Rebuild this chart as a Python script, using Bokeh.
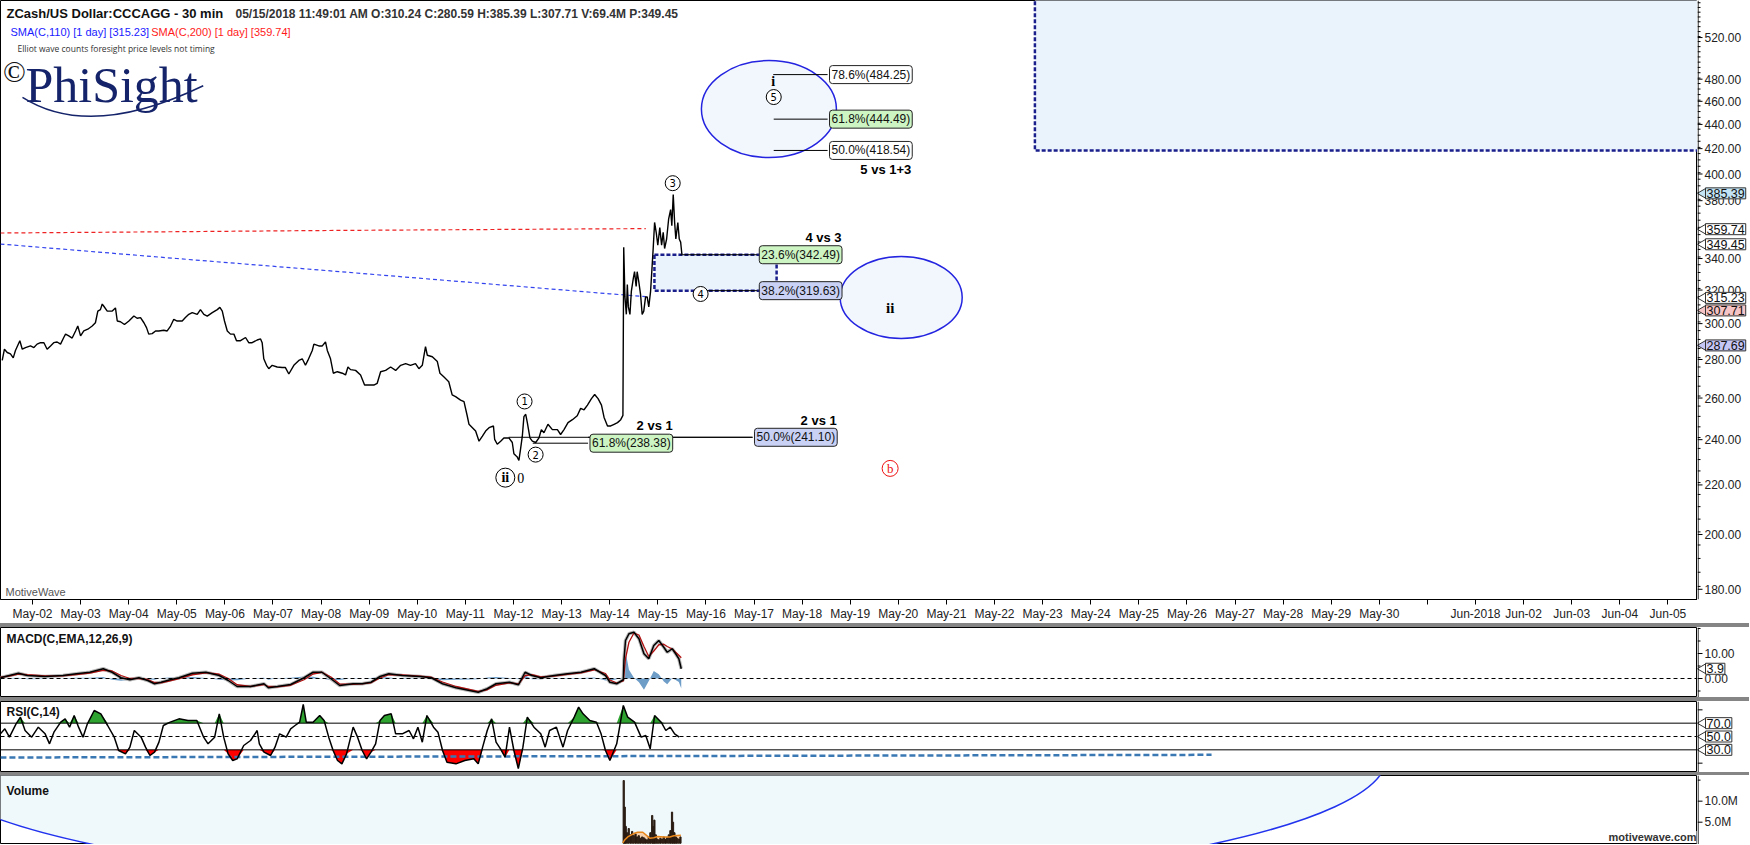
import numpy as np
from bokeh.plotting import figure
from bokeh.models import Range1d, FixedTicker, Label, Span, Div
from bokeh.layouts import column, row
from bokeh.embed import file_html
from bokeh.resources import INLINE
from bokeh.core.properties import value

# ---------------- data (hours after May-02 00:00) ----------------
price_h = [-15.1, -14.0, -12.6, -11.0, -9.6, -8.5, -6.3, -5.1, -3.5, -1.0,
           0.7, 2.3, 4.0, 5.7, 7.3, 9.0, 10.6, 12.3, 14.0, 15.6,
           16.5, 18.1, 19.8, 21.5, 22.6, 24.0, 25.6, 27.6, 29.8, 31.4,
           32.6, 33.9, 34.8, 35.6, 37.3, 39.8, 41.4, 42.3, 43.9, 45.9,
           48.1, 50.6, 52.2, 53.9, 55.6, 56.9, 58.0, 59.7, 61.4, 63.0,
           65.5, 67.2, 68.9, 70.5, 72.2, 74.7, 76.3, 78.0, 79.7, 82.2,
           83.8, 85.5, 87.2, 89.7, 92.2, 93.5, 94.7, 95.8, 97.2, 98.8,
           100.5, 101.8, 103.8, 106.3, 107.9, 109.6, 112.1, 113.8, 114.6, 115.4,
           116.8, 117.9, 119.6, 122.1, 124.6, 126.2, 127.9, 130.4, 132.9, 134.6,
           136.2, 137.4, 139.6, 140.4, 142.9, 144.6, 146.2, 147.1, 148.7, 150.1,
           152.1, 154.6, 156.2, 157.4, 158.7, 161.2, 163.7, 165.7, 167.8, 170.3,
           172.0, 173.7, 176.2, 178.7, 181.2, 183.7, 186.2, 188.6, 191.1, 192.8,
           194.5, 196.1, 197.0, 199.5, 202.0, 203.3, 205.2, 207.7, 209.4, 211.1,
           213.6, 215.3, 216.9, 217.8, 219.5, 221.1, 222.8, 224.5, 226.1, 227.8,
           230.0, 230.6, 231.9, 233.6, 235.2, 237.7, 239.4, 240.2, 241.1, 241.9,
           242.7, 243.5, 244.4, 245.2, 246.1, 246.9, 248.2, 249.4, 251.1, 252.7,
           253.9, 255.2, 257.2, 259.4, 261.9, 263.5, 265.2, 267.2, 269.4, 271.8,
           273.5, 275.2, 276.9, 278.9, 280.5, 282.2, 283.9, 285.2, 286.9, 288.5,
           290.2, 291.9, 293.5, 294.6, 295.0, 295.6, 296.3, 296.8, 297.3, 298.1,
           298.8, 299.8, 300.4, 301.2, 301.7, 302.5, 303.4, 304.2, 305.0, 305.9,
           306.7, 307.5, 308.4, 309.2, 309.7, 310.4, 311.2, 312.0, 313.0, 313.9,
           314.7, 315.4, 316.4, 317.4, 318.4, 319.0, 319.7, 320.4, 321.0, 322.0,
           322.7, 323.4, 324.0]
price = [279.5, 285.6, 283.8, 283.1, 280.9, 284.9, 290.3, 285.6, 286.5, 287.4,
         286.5, 288.4, 289.2, 289.2, 285.6, 287.4, 289.2, 289.6, 288.4, 292.1,
         294.0, 293.0, 291.8, 295.8, 298.6, 293.0, 295.8, 296.8, 298.6, 300.5,
         307.3, 308.2, 311.5, 310.2, 307.3, 307.3, 309.2, 301.5, 301.1, 299.5,
         301.5, 304.4, 303.1, 303.5, 300.5, 297.7, 294.0, 294.3, 295.8, 295.8,
         296.2, 295.8, 298.6, 302.5, 301.5, 301.5, 303.5, 305.4, 306.4, 305.4,
         308.2, 305.4, 304.4, 306.4, 308.2, 309.5, 307.3, 301.5, 295.8, 294.0,
         294.0, 290.3, 290.3, 292.1, 289.2, 289.2, 290.7, 291.3, 289.2, 280.4,
         276.9, 275.1, 276.9, 276.0, 275.7, 275.7, 272.3, 276.9, 279.5, 280.4,
         276.9, 279.5, 284.9, 288.4, 287.4, 287.4, 289.6, 284.9, 280.4, 272.7,
         273.5, 272.7, 271.8, 276.0, 274.6, 274.2, 271.8, 266.6, 266.6, 266.6,
         267.5, 273.5, 274.2, 276.0, 274.2, 276.9, 277.8, 276.9, 277.8, 275.1,
         276.9, 287.0, 282.3, 281.5, 278.9, 272.7, 270.9, 268.3, 261.6, 260.7,
         259.0, 258.2, 251.3, 247.2, 245.6, 244.0, 239.3, 241.6, 244.0, 245.6,
         246.4, 240.1, 237.9, 239.3, 240.8, 240.8, 238.7, 233.6, 232.8, 232.1,
         230.6, 235.6, 241.6, 250.9, 252.0, 248.0, 240.8, 239.3, 238.7, 240.8,
         244.7, 243.2, 247.2, 244.7, 244.7, 242.4, 244.7, 248.0, 249.4, 251.3,
         254.9, 254.2, 256.5, 259.7, 261.8, 259.7, 256.5, 250.5, 246.4, 246.4,
         247.2, 248.0, 249.4, 251.5, 347.5, 315.8, 305.4, 323.4, 309.8, 305.4,
         319.2, 327.4, 331.5, 322.2, 331.5, 325.3, 317.3, 305.4, 307.3, 315.8,
         315.8, 309.8, 319.2, 335.8, 346.6, 364.4, 357.6, 348.8, 360.8, 348.8,
         357.6, 346.6, 353.0, 366.7, 373.5, 362.1, 384.6, 364.4, 353.0, 364.4,
         353.0, 350.9, 343.0]

sma110_h = [-16, 72, 144, 216, 288, 306]
sma110 = [349.6, 340.0, 332.5, 325.0, 317.7, 316.0]
sma200_h = [-16, 72, 144, 216, 288, 306]
sma200 = [357.1, 358.0, 358.8, 359.4, 360.0, 360.1]

macd_h = [-16, -11.5, -7, -2.6, 6.3, 15.2, 21.9, 28.6, 35.3, 39.7,
          44.2, 48.6, 53.1, 57.5, 60.9, 64.2, 68.7, 73.1, 79.8, 86.5,
          93.2, 97.7, 102.1, 108.8, 115.5, 117.7, 122.2, 128.8, 135.5, 140,
          144.4, 148.9, 153.3, 160, 164.5, 168.9, 173.4, 177.8, 184.5, 193.4,
          199, 204.6, 211.3, 218, 222.4, 226.9, 231.3, 238, 242.5, 245.8,
          249.2, 253.6, 260.3, 267, 273.7, 280.3, 285.9, 288.1, 291.5, 294.8,
          295.1, 295.9, 297.6, 300.1, 302.6, 305.1, 307.5, 310, 312.5, 315,
          316.7, 319.2, 320.9, 322.5, 323.7]
macd_line = [0.3, 1.2, 2.1, 1.2, 0.8, 1.2, 1.9, 2.5, 3.9, 2.5,
             0.3, -0.5, 0.3, -0.8, -2.1, -1.5, -0.5, 0.3, 2.1, 2.5,
             1.2, -0.8, -3.2, -3.2, -2.1, -3.7, -3.2, -2.4, 0.3, 2.5,
             2.5, -0.1, -2.8, -2.1, -2.1, -1.5, 0.8, 1.9, 1.2, 0.8,
             0.3, -2.1, -3.7, -4.8, -5.5, -4.1, -2.1, -1.5, -2.5, 2.5,
             1.2, 0.3, 1.2, 1.9, 2.5, 3.9, 1.2, -1.5, -2.1, -0.5,
             7.2, 15.2, 17.9, 18.5, 15.9, 9.9, 7.9, 13.2, 15.2, 12.5,
             10.5, 11.9, 9.9, 7.9, 3.9]
macd_signal = [0.5, 1.0, 1.8, 1.5, 1.0, 1.1, 1.6, 2.2, 3.3, 3.0,
               1.2, 0.0, 0.0, -0.4, -1.6, -1.7, -0.9, 0.0, 1.5, 2.3,
               1.7, 0.0, -2.5, -3.2, -2.4, -3.2, -3.3, -2.7, -0.5, 1.8,
               2.5, 0.6, -2.2, -2.3, -2.1, -1.7, 0.2, 1.5, 1.4, 0.9,
               0.5, -1.4, -3.2, -4.4, -5.2, -4.5, -2.7, -1.7, -2.2, 1.2,
               1.5, 0.6, 1.0, 1.7, 2.3, 3.5, 2.0, -0.6, -1.8, -1.0,
               1.5, 8.0, 14.5, 18.2, 17.4, 12.8, 8.8, 11.0, 13.5, 13.7,
               12.8, 11.8, 10.5, 9.3, 8.3]
macd_hist = [-0.2, 0.2, 0.3, -0.3, -0.2, 0.1, 0.3, 0.3, 0.6, -0.5,
             -0.9, -0.5, 0.3, -0.4, -0.5, 0.2, 0.4, 0.3, 0.6, 0.2,
             -0.5, -0.8, -0.7, 0.0, 0.3, -0.5, 0.1, 0.3, 0.8, 0.7,
             0.0, -0.7, -0.6, 0.2, 0.0, 0.2, 0.6, 0.4, -0.2, -0.1,
             -0.2, -0.7, -0.5, -0.4, -0.3, 0.4, 0.6, 0.2, -0.3, 1.3,
             -0.3, -0.3, 0.2, 0.2, 0.2, 0.4, -0.8, -0.9, -0.3, 0.5,
             6.0, 11.0, 3.5, 0.3, -1.5, -4.5, -1.0, 3.0, 1.7, -1.2,
             -2.3, 0.1, -0.6, -1.4, -4.0]

rsi_h = [-16.0, -13.8, -11.5, -8.2, -6.0, -3.7, -0.4, 2.9, 6.3, 8.5,
         10.7, 14.1, 16.3, 18.5, 20.8, 23.0, 25.2, 27.4, 30.8, 34.1,
         37.5, 40.8, 43.0, 46.4, 48.6, 50.8, 54.2, 56.4, 58.6, 60.9,
         63.1, 65.3, 68.7, 73.1, 77.6, 82.0, 85.4, 87.6, 90.9, 93.2,
         95.4, 97.6, 99.9, 102.1, 105.4, 108.8, 112.1, 113.2, 115.5, 118.8,
         121.0, 123.3, 126.6, 128.8, 131.0, 133.3, 135.1, 136.6, 140.0, 143.3,
         145.5, 147.8, 150.0, 152.2, 154.4, 156.7, 160.0, 162.2, 164.5, 166.7,
         168.9, 171.2, 173.4, 175.6, 179.0, 181.2, 184.5, 187.9, 190.1, 192.3,
         194.5, 196.8, 200.1, 202.3, 204.6, 206.8, 211.3, 215.7, 220.2, 222.4,
         224.6, 226.9, 229.1, 231.3, 233.5, 235.8, 238.0, 240.2, 242.4, 244.7,
         246.9, 250.2, 253.6, 255.8, 258.0, 261.4, 264.7, 267.0, 270.3, 272.5,
         274.7, 278.1, 281.4, 283.7, 285.9, 288.1, 291.5, 294.8, 297.0, 300.4,
         303.7, 306.0, 308.2, 310.4, 313.7, 316.0, 318.2, 320.4, 322.7]
rsi = [54, 61.5, 49, 69, 79, 59, 49, 64, 54, 39,
       56.5, 71.5, 76.5, 64, 81.5, 64, 49, 69, 89, 84,
       66.5, 49, 29, 24, 34, 59, 49, 34, 21.5, 26.5,
       41.5, 66.5, 71.5, 76.5, 74, 74, 49, 39, 49, 84,
       49, 24, 14, 16.5, 36.5, 44, 59, 39, 26.5, 21.5,
       34, 54, 49, 61.5, 66.5, 71.5, 98, 71.5, 71.5, 81.5,
       74, 49, 29, 14, 9, 24, 64, 49, 29, 16.5,
       26.5, 39, 74, 81.5, 84, 54, 54, 59, 46.5, 64,
       41.5, 81.5, 64, 56.5, 29, 11.5, 9, 14, 16.5, 9,
       34, 59, 76.5, 41.5, 31.5, 19, 64, 29, 2, 34,
       79, 64, 54, 34, 59, 64, 34, 59, 79, 94,
       84, 74, 71.5, 54, 29, 14, 39, 96.5, 79, 71.5,
       49, 51.5, 31.5, 81.5, 71.5, 59, 64, 54, 49]
rsi_trend_h = [-16, 588.3]
rsi_trend = [18.5, 22.5]

vol_h = [295.0, 295.5, 296.0, 296.7, 297.5, 298.4, 299.2, 300.0, 300.9, 301.7,
         302.5, 303.3, 304.2, 305.0, 305.8, 306.7, 307.5, 308.3, 309.2, 309.7,
         310.3, 311.0, 311.7, 312.5, 313.3, 314.2, 315.0, 315.8, 316.6, 317.5,
         318.3, 319.1, 319.6, 320.3, 321.0, 321.6, 322.5, 323.3]
vol_m = [14.9, 8.6, 4.0, 2.5, 3.5, 2.0, 2.8, 1.8, 2.2, 1.5,
         1.8, 1.2, 1.5, 1.3, 1.0, 0.8, 1.5, 2.5, 6.6, 4.0,
         5.5, 2.0, 1.0, 0.8, 1.2, 1.0, 1.5, 0.9, 1.3, 2.0,
         3.0, 7.4, 5.0, 2.5, 1.5, 1.2, 1.0, 1.5]
volma_h = [294.5, 295.5, 297, 300, 302, 304.5, 306.5, 308, 310, 312, 315, 318, 320, 323.5]
volma_m = [0.1, 0.8, 1.5, 2.3, 2.6, 2.6, 1.8, 1.2, 1.3, 1.6, 1.5, 1.5, 1.8, 1.9]

day_ticks = list(range(35))
day_labels = ["May-%02d" % d for d in range(2, 31)] + ["", "Jun-2018", "Jun-02", "Jun-03", "Jun-04", "Jun-05"]
price_ticks = [180, 200, 220, 240, 260, 280, 300, 320, 340, 360, 380, 400, 420, 440, 460, 480, 520]
price_badges = [385.39, 359.74, 349.45, 315.23, 307.71, 287.69]
badge_fills = ["#c2e4f4", "#ffffff", "#ffffff", "#ffffff", "#f6c4c4", "#c6c6f6"]
macd_ticks = [0, 10]
rsi_ticks = [10, 30, 50, 70, 90]
rsi_levels = [70, 50, 30]
vol_ticks = [5, 10]
vol_tick_labels = ["5.0M", "10.0M"]

fib_prices = [484.25, 444.49, 418.54, 342.49, 319.63, 241.10, 238.38]
fib_texts = ["78.6%(484.25)", "61.8%(444.49)", "50.0%(418.54)", "23.6%(342.49)",
             "38.2%(319.63)", "50.0%(241.10)", "61.8%(238.38)"]
fib_fills = ["#ffffff", "#cdf5c4", "#ffffff", "#cdf5c4", "#c9d1f5", "#c9d1f5", "#cdf5c4"]
fib_line_from = [15.40, 15.41, 15.41, 13.47, 13.91, 9.90, 10.40]
fib_label_at = [16.57, 16.57, 16.57, 15.11, 15.11, 15.01, 11.59]

# ---------------- layout constants ----------------
SANS = "Liberation Sans"
SERIF = "Liberation Serif"
X0, X1 = -0.665, 34.615
FW = 1697       # frame width of the panels
AW = 52         # price-axis strip width


def day(h):
    return np.asarray(h, dtype=float) / 24.0


def panel(height, y_range, **kw):
    f = figure(width=FW, height=height, x_range=xr, y_range=y_range, y_axis_location=None,
               output_backend="svg", toolbar_location=None, min_border_left=0,
               min_border_right=0, min_border_top=0, **kw)
    f.grid.visible = False
    f.outline_line_color = "black"
    f.outline_line_width = 1
    f.background_fill_color = "white"
    f.border_fill_color = "white"
    return f


def axis_strip(height, y_range, bottom=0, **kw):
    a = figure(width=AW, height=height, x_range=Range1d(0, AW), y_range=y_range,
               x_axis_location=None, y_axis_location=None, output_backend="svg",
               toolbar_location=None, min_border_left=0, min_border_right=0,
               min_border_top=0, min_border_bottom=bottom, **kw)
    a.grid.visible = False
    a.outline_line_color = None
    a.background_fill_color = "white"
    a.border_fill_color = "white"
    a.add_layout(Span(location=0.6, dimension="height", line_color="black", line_width=1))
    return a


def ticks(a, major, minor, labels):
    a.segment(x0=[0] * len(major), y0=major, x1=[5] * len(major), y1=major,
              line_color="black", line_width=1)
    if minor:
        a.segment(x0=[0] * len(minor), y0=minor, x1=[3] * len(minor), y1=minor,
                  line_color="black", line_width=1)
    if labels:
        a.text(x=[7] * len(major), y=major, text=labels, text_font=value(SANS),
               text_font_size="12px", text_color="#222222", text_align="left",
               text_baseline="middle")


def badges(a, ys, txts, fills):
    a.scatter(x=[5.5] * len(ys), y=ys, marker="triangle", angle=np.pi / 2, size=10,
              fill_color=fills, line_color="#333333", line_width=1)
    for y, t, c in zip(ys, txts, fills):
        a.add_layout(Label(x=8, y=y, text=t, text_font=SANS, text_font_size="12.5px",
                           text_color="#111111", text_align="left", text_baseline="middle",
                           background_fill_color=c, border_line_color="#333333",
                           border_line_width=1, padding=1))


def text(fig, x, y, txt, size="12px", color="black", bold=False, font=SANS, align="left",
         baseline="middle", **kw):
    fig.add_layout(Label(x=x, y=y, text=txt, text_font=font, text_font_size=size,
                         text_color=color, text_font_style="bold" if bold else "normal",
                         text_align=align, text_baseline=baseline, **kw))


xr = Range1d(X0, X1)

# ---------------- main price panel ----------------
main = panel(623, Range1d(176.5, 558.4), y_axis_type="log", x_axis_location="below",
             min_border_bottom=23)
main.xaxis.ticker = FixedTicker(ticks=day_ticks)
main.xaxis.major_label_overrides = {t: s for t, s in zip(day_ticks, day_labels)}
main.xaxis.axis_line_color = "black"
main.xaxis.major_tick_in = 0
main.xaxis.major_tick_out = 5
main.xaxis.minor_tick_line_color = None
main.xaxis.major_label_text_font = SANS
main.xaxis.major_label_text_font_size = "12px"
main.xaxis.major_label_text_color = "#222222"
main.xaxis.major_label_standoff = 2

main.quad(left=[20.84], right=[40], bottom=[418.5], top=[700], fill_color="#eaf2fc",
          line_color="#1a1f8c", line_dash="4 2", line_width=2.5)
main.quad(left=[12.93], right=[15.47], bottom=[319.63], top=[342.49], fill_color="#eaf2fc",
          line_color="#1a1f8c", line_dash="4 2", line_width=2.5)

main.ellipse(x=[15.31], y=[453.2], width=135, height=97, width_units="screen",
             height_units="screen", fill_color="#f1f7fd", line_color="#2424e0", line_width=1.5)
main.ellipse(x=[18.06], y=[315.5], width=122, height=82, width_units="screen",
             height_units="screen", fill_color="#f1f7fd", line_color="#2424e0", line_width=1.5)

main.line(day(sma200_h), sma200, line_color="#ee2222", line_dash="4 3", line_width=1.2)
main.line(day(sma110_h), sma110, line_color="#3344ee", line_dash="4 3", line_width=1.2)

fib_label_left = [f - 0.04 for f in fib_label_at]
main.segment(x0=fib_line_from, y0=fib_prices, x1=fib_label_left, y1=fib_prices,
             line_color="black", line_width=1)
main.segment(x0=[11.55], y0=[241.10], x1=[14.97], y1=[241.10], line_color="black", line_width=1)

main.line(day(price_h), price, line_color="black", line_width=1.4)

for pv, tx, fc, lx in zip(fib_prices, fib_texts, fib_fills, fib_label_at):
    main.add_layout(Label(x=lx, y=pv, text=tx, text_font=SANS, text_font_size="12px",
                          text_color="#111111", text_align="left", text_baseline="middle",
                          background_fill_color=fc, border_line_color="#222222",
                          border_line_width=1, padding=2, border_radius=3))

text(main, 18.27, 403.7, "5 vs 1+3", size="13px", bold=True, align="right")
text(main, 16.82, 354.3, "4 vs 3", size="13px", bold=True, align="right")
text(main, 16.72, 249.0, "2 vs 1", size="13px", bold=True, align="right")
text(main, 13.31, 246.7, "2 vs 1", size="13px", bold=True, align="right")

wave_x = [10.23, 10.46, 13.31, 13.89, 15.41]
wave_y = [258.3, 233.2, 393.0, 317.6, 463.8]
wave_t = ["1", "2", "3", "4", "5"]
main.scatter(wave_x, wave_y, marker="circle", size=15, fill_color="white", line_color="black",
             line_width=1)
main.text(wave_x, wave_y, text=wave_t, text_font=value("DejaVu Sans"), text_font_size="10px",
          text_align="center", text_baseline="middle", text_color="black")
main.scatter([9.83], [223.1], marker="circle", size=19, fill_color="white", line_color="black",
             line_width=1)
main.text([9.83], [223.1], text=["ii"], text_font=value(SERIF), text_font_size="14px",
          text_font_style="bold", text_align="center", text_baseline="middle")
main.text([10.15], [223.1], text=["0"], text_font=value(SERIF), text_font_size="14px",
          text_align="center", text_baseline="middle")
main.scatter([17.83], [227.1], marker="circle", size=16, fill_color="white", line_color="#ee1111",
             line_width=1)
main.text([17.83], [227.1], text=["b"], text_font=value(SERIF), text_font_size="13px",
          text_align="center", text_baseline="middle", text_color="#ee1111")
main.text([15.40], [478.1], text=["i"], text_font=value(SERIF), text_font_size="14px",
          text_font_style="bold", text_align="center", text_baseline="middle")
main.text([17.83], [309.0], text=["ii"], text_font=value(SERIF), text_font_size="15px",
          text_font_style="bold", text_align="center", text_baseline="middle")

text(main, -0.54, 544.6, "ZCash/US Dollar:CCCAGG - 30 min", size="13px", bold=True, color="#111111")
text(main, 4.22, 544.6, "05/15/2018 11:49:01 AM  O:310.24  C:280.59  H:385.39  L:307.71  V:69.4M  P:349.45",
     size="12px", bold=True, color="#333333")
text(main, -0.457, 525.2, "SMA(C,110) [1 day] [315.23]", size="11px", color="#1a1aff")
text(main, 2.468, 525.2, "SMA(C,200) [1 day] [359.74]", size="11px", color="#ff1a1a")
text(main, -0.312, 509.6, "Elliot wave counts foresight price levels not timing",
     size="8.5px", color="#333333", font="Open Sans")
text(main, -0.374, 487.3, "\u00a9", size="30px", font=SERIF, color="#111111", align="center")
text(main, -0.146, 474.4, "PhiSight", size="50px", font=SERIF, color="#15246a",
     baseline="alphabetic")
main.quadratic(x0=[-0.208], y0=[463.6], x1=[3.55], y1=[474.0], cx=[1.2], cy=[426.8],
               line_color="#15246a", line_width=1.5)
text(main, -0.561, 179.2, "MotiveWave", size="11px", color="#555555")

main_ax = axis_strip(623, main.y_range, bottom=23, y_axis_type="log")
ticks(main_ax, price_ticks, list(range(176, 560, 5)), ["%.2f" % t for t in price_ticks])
badges(main_ax, price_badges, ["%.2f" % b for b in price_badges], badge_fills)

# ---------------- MACD panel ----------------
macd = panel(70, Range1d(-7.6, 20.4), x_axis_location=None, min_border_bottom=0)
macd.varea(x=day(macd_h), y1=0, y2=macd_hist, fill_color="#6e9dc8")
macd.add_layout(Span(location=0, dimension="width", line_color="black", line_dash="4 3", line_width=1))
macd.line(day(macd_h), macd_line, line_color="#b8b8b8", line_width=3.5)
macd.line(day(macd_h), macd_signal, line_color="#b01010", line_width=1.3)
macd.line(day(macd_h), macd_line, line_color="black", line_width=1.5)
text(macd, -0.54, 16.0, "MACD(C,EMA,12,26,9)", size="12px", bold=True, color="#111111")
macd_ax = axis_strip(70, macd.y_range)
ticks(macd_ax, macd_ticks, [-5, 5, 15, 20], ["%.2f" % t for t in macd_ticks])
badges(macd_ax, [3.9], ["3.9"], ["#ffffff"])

# ---------------- RSI panel ----------------
rsip = panel(71, Range1d(-4, 102.5), x_axis_location=None, min_border_bottom=0)
rx = day(rsi_h)
ra = np.asarray(rsi, dtype=float)
rsip.varea(x=rx, y1=70, y2=np.maximum(ra, 70), fill_color="#2fa32f")
rsip.varea(x=rx, y1=np.minimum(ra, 30), y2=30, fill_color="#ff0000")
rsip.add_layout(Span(location=70, dimension="width", line_color="black", line_width=1))
rsip.add_layout(Span(location=30, dimension="width", line_color="black", line_width=1))
rsip.add_layout(Span(location=50, dimension="width", line_color="black", line_dash="4 3", line_width=1))
rsip.line(day(rsi_trend_h), rsi_trend, line_color="#3a78b4", line_dash="6 3", line_width=2.5)
rsip.line(rx, ra, line_color="black", line_width=1.5)
text(rsip, -0.54, 87.0, "RSI(C,14)", size="12px", bold=True, color="#111111")
rsi_ax = axis_strip(71, rsip.y_range)
ticks(rsi_ax, rsi_ticks, None, None)
badges(rsi_ax, rsi_levels, ["%.1f" % v for v in rsi_levels], ["#ffffff"] * 3)

# ---------------- Volume panel ----------------
volp = panel(69, Range1d(-0.3, 16.1), x_axis_location=None, min_border_bottom=0)
volp.ellipse(x=[12.87], y=[20.4], width=1470, height=268, width_units="screen",
             height_units="screen", fill_color="#eff8fb", line_color="#2233ee", line_width=1.5)
volp.varea(x=day(volma_h), y1=0, y2=volma_m, fill_color="#f6d0ab")
volp.vbar(x=day(vol_h), width=0.6 / 24, bottom=0, top=vol_m, fill_color="#2a1c12",
          line_color="#2a1c12")
volp.line(day(volma_h), volma_m, line_color="#e8861a", line_width=1.5)
text(volp, -0.54, 12.4, "Volume", size="12px", bold=True, color="#111111")
text(volp, X1 - 0.02, 1.5, "motivewave.com", size="11px", bold=True, color="#333333",
     align="right", background_fill_color="white")
vol_ax = axis_strip(69, volp.y_range)
ticks(vol_ax, vol_ticks, [15], vol_tick_labels)


def bar(h):
    return Div(text="", width=FW + AW, height=h, margin=0,
               styles={"background-color": "#858585"})


layout = column(row(main, main_ax, spacing=0), bar(4),
                row(macd, macd_ax, spacing=0), bar(4),
                row(rsip, rsi_ax, spacing=0), bar(3),
                row(volp, vol_ax, spacing=0), spacing=0)
open("out.html", "w").write(file_html(layout, INLINE))
